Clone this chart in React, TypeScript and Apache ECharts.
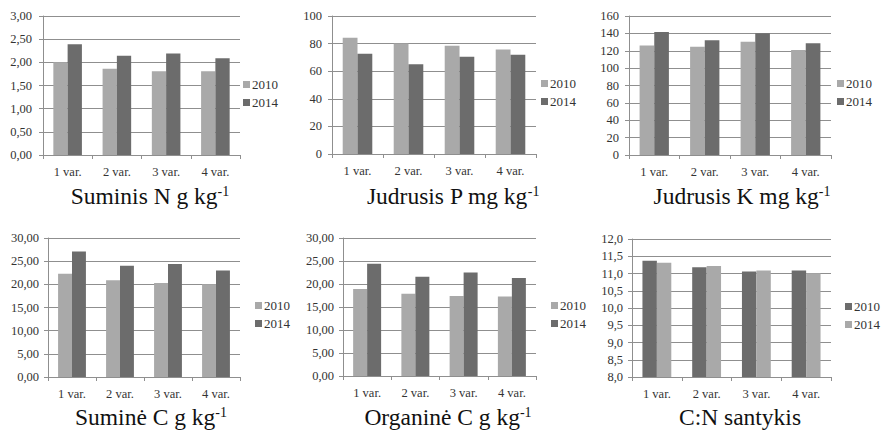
import React, { useEffect, useRef } from "react";
import * as echarts from "echarts";

const categories = ["1 var.", "2 var.", "3 var.", "4 var."];
const seriesNames = ["2010", "2014"];

const nTotal2010 = [2.0, 1.86, 1.81, 1.81];
const nTotal2014 = [2.39, 2.14, 2.19, 2.09];

const pMobile2010 = [84.3, 80.0, 78.5, 75.8];
const pMobile2014 = [72.7, 65.0, 70.4, 72.0];

const kMobile2010 = [126, 124.5, 130.5, 121];
const kMobile2014 = [141.5, 132, 140.2, 128.6];

const cTotal2010 = [22.3, 20.9, 20.3, 20.0];
const cTotal2014 = [27.1, 24.0, 24.4, 23.0];

const cOrg2010 = [18.9, 17.9, 17.4, 17.3];
const cOrg2014 = [24.4, 21.6, 22.5, 21.3];

const cn2010 = [11.37, 11.18, 11.06, 11.09];
const cn2014 = [11.31, 11.22, 11.09, 11.01];

const titles = [
  ["Suminis N g kg", "-1"],
  ["Judrusis P mg kg", "-1"],
  ["Judrusis K mg kg", "-1"],
  ["Suminė C g kg", "-1"],
  ["Organinė C g kg", "-1"],
  ["C:N santykis", ""],
];

const LIGHT = "#a9a9a9";
const DARK = "#6c6c6c";
const LINE = "#8f8f8f";
const FONT = "'Liberation Serif', 'Times New Roman', serif";

const panels = [
  { d: [nTotal2010, nTotal2014], min: 0, max: 3, interval: 0.5, dec: 2, colors: [LIGHT, DARK],
    grid: { left: 43, top: 16, width: 197, height: 139 }, labelMargin: 11, legend: { left: 243, top: 78 }, title: { x: 150, y: 196 } },
  { d: [pMobile2010, pMobile2014], min: 0, max: 100, interval: 20, dec: 0, colors: [LIGHT, DARK],
    grid: { left: 332, top: 16, width: 204, height: 138 }, labelMargin: 10, legend: { left: 541, top: 77 }, title: { x: 453, y: 196 } },
  { d: [kMobile2010, kMobile2014], min: 0, max: 160, interval: 20, dec: 0, colors: [LIGHT, DARK],
    grid: { left: 629, top: 16, width: 202, height: 139 }, labelMargin: 10, legend: { left: 837, top: 77 }, title: { x: 742, y: 196 } },
  { d: [cTotal2010, cTotal2014], min: 0, max: 30, interval: 5, dec: 2, colors: [LIGHT, DARK],
    grid: { left: 48, top: 238, width: 192, height: 139 }, labelMargin: 9, legend: { left: 255, top: 299 }, title: { x: 151, y: 417 } },
  { d: [cOrg2010, cOrg2014], min: 0, max: 30, interval: 5, dec: 2, colors: [LIGHT, DARK],
    grid: { left: 343, top: 238, width: 193, height: 138 }, labelMargin: 9, legend: { left: 551, top: 299 }, title: { x: 448, y: 417 } },
  { d: [cn2010, cn2014], min: 8, max: 12, interval: 0.5, dec: 1, colors: [DARK, LIGHT],
    grid: { left: 632, top: 239, width: 199, height: 138 }, labelMargin: 9, legend: { left: 845, top: 300 }, title: { x: 740, y: 417 } },
];

export default function App() {
  const ref = useRef<HTMLDivElement>(null);
  useEffect(() => {
    document.body.style.margin = "0";
    if (!ref.current) return;
    const chart = echarts.init(ref.current, undefined, { renderer: "svg" });
    const grid: any[] = [];
    const xAxis: any[] = [];
    const yAxis: any[] = [];
    const series: any[] = [];
    const legend: any[] = [];
    const graphic: any[] = [];
    panels.forEach((p, i) => {
      grid.push({ ...p.grid, containLabel: false });
      xAxis.push({
        type: "category",
        gridIndex: i,
        data: categories,
        axisLine: { lineStyle: { color: LINE, width: 1 } },
        axisTick: { show: true, length: 4, lineStyle: { color: LINE } },
        axisLabel: { color: "#333", fontFamily: FONT, fontSize: 12.5, margin: 10 },
      });
      yAxis.push({
        type: "value",
        gridIndex: i,
        min: p.min,
        max: p.max,
        interval: p.interval,
        axisLine: { show: true, lineStyle: { color: LINE, width: 1 } },
        axisTick: { show: true, length: 4, lineStyle: { color: LINE } },
        splitLine: { lineStyle: { color: LINE, width: 1 } },
        axisLabel: {
          color: "#333",
          fontFamily: FONT,
          fontSize: 12.5,
          margin: p.labelMargin,
          formatter: (v: number) => v.toFixed(p.dec).replace(".", ","),
        },
      });
      p.d.forEach((vals, j) => {
        series.push({
          type: "bar",
          name: seriesNames[j],
          xAxisIndex: i,
          yAxisIndex: i,
          data: vals,
          barGap: "0%",
          barCategoryGap: "42%",
          itemStyle: { color: p.colors[j] },
        });
      });
      legend.push({
        orient: "vertical",
        left: p.legend.left,
        top: p.legend.top,
        padding: 0,
        itemWidth: 7,
        itemHeight: 7,
        itemGap: 5,
        icon: "rect",
        selectedMode: false,
        textStyle: { fontFamily: FONT, fontSize: 13, color: "#333", lineHeight: 13, padding: [0, 0, 0, -3] },
        data: seriesNames.map((n, j) => ({ name: n, itemStyle: { color: p.colors[j] } })),
      });
      const [main, sup] = titles[i];
      graphic.push({
        type: "text",
        x: p.title.x,
        y: p.title.y,
        style: {
          text: sup ? `{a|${main}}{s|${sup}}` : `{a|${main}}`,
          align: "center",
          verticalAlign: "middle",
          rich: {
            a: { fontFamily: FONT, fontSize: 23.5, fill: "#111", lineHeight: 24 },
            s: { fontFamily: FONT, fontSize: 14, fill: "#111", verticalAlign: "top", lineHeight: 14 },
          },
        },
      });
    });
    chart.setOption({
      animation: false,
      backgroundColor: "#fff",
      grid,
      xAxis,
      yAxis,
      series,
      legend,
      graphic,
    });
    return () => chart.dispose();
  }, []);
  return <div ref={ref} style={{ width: 882, height: 430 }} />;
}
